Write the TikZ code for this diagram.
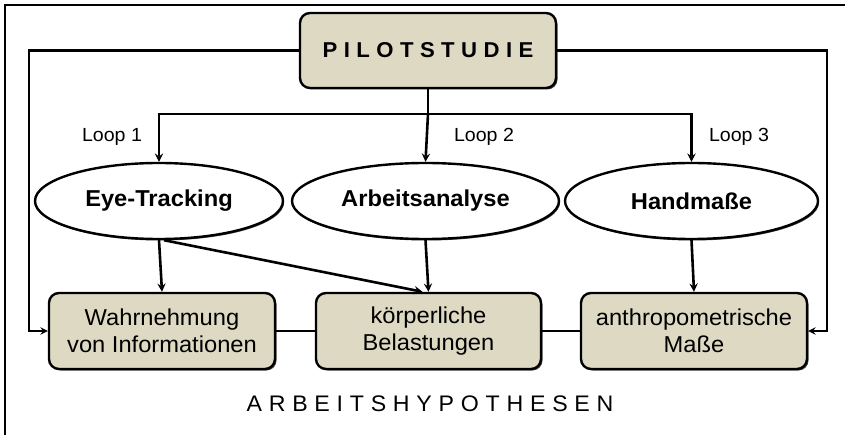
\documentclass[tikz,border=0pt]{standalone}
\usepackage{fontspec}
\setmainfont{Liberation Sans}[FakeStretch=1.03]
\newfontfamily\wideface{Liberation Sans}[FakeStretch=1.03,LetterSpace=30]
\usetikzlibrary{arrows,shapes.geometric,shadows}
\definecolor{tan}{RGB}{221,217,195}
\tikzset{
	hbox/.style={draw,line width=2.4pt,fill=tan,rounded corners=10pt,align=center,
		drop shadow={shadow xshift=1.5pt,shadow yshift=-1.5pt,fill=black!70,opacity=1},
		font=\fontsize{23}{27}\selectfont,inner sep=0pt},
	loopell/.style={draw,ellipse,line width=2.4pt,fill=white,inner sep=0pt,
		drop shadow={shadow xshift=1pt,shadow yshift=-1.5pt,fill=black!70,opacity=1},
		font=\fontsize{23}{26}\selectfont\bfseries,minimum height=76pt},
	arr/.style={-stealth,line width=2.6pt},
	back/.style={-stealth,line width=2.2pt},
	wire/.style={line width=2.6pt}
}
\begin{document}
\begin{tikzpicture}[x=1pt,y=-1pt]
	\useasboundingbox (0,0) rectangle (845,435);
	\draw[line width=2.6pt] (5,436) |- (846,5);

	\node[hbox,minimum width=256pt,minimum height=75pt,font=\fontsize{21.5}{24}\selectfont] (pilot) at (428,50.5)
		{\wideface\bfseries PILOTSTUDIE};

	\node[loopell,minimum width=248pt] (eye) at (159,201) {Eye-Tracking};
	\node[loopell,minimum width=267pt] (arb) at (425.5,201) {Arbeitsanalyse};
	\node[loopell,minimum width=253pt] (hand) at (691.5,201) {Handmaße};

	\node[hbox,minimum width=226pt,minimum height=76pt] (wahr) at (162,331) {Wahrnehmung\\von Informationen};
	\node[hbox,minimum width=225pt,minimum height=76pt] (koerp) at (428.5,331) {körperliche\\Belastungen};
	\node[hbox,minimum width=226pt,minimum height=76pt] (anthro) at (694,331) {anthropometrische\\Maße};

	\node[font=\fontsize{22.5}{24}\selectfont] (hypo) at (430,404) {\wideface ARBEITSHYPOTHESEN};

	\coordinate (split) at (428,114);
	\draw[wire] (pilot.south) -- (split);
	\draw[arr] (split) -| (eye.north);
	\draw[arr] (split) -- (arb.north);
	\draw[arr] (split) -| (hand.north);

	\node[font=\fontsize{19}{20}\selectfont] (l1) at (112,137) {Loop 1};
	\node[font=\fontsize{19}{20}\selectfont,fill=white,inner sep=1pt] (l2) at (484,137) {Loop 2};
	\node[font=\fontsize{19}{20}\selectfont] (l3) at (739,137) {Loop 3};

	\draw[back] (pilot.west) -| ([xshift=-19pt]wahr.west) -- (wahr.west);
	\draw[back] (pilot.east) -| ([xshift=19pt]anthro.east) -- (anthro.east);

	\draw[arr] (eye.south) -- (wahr.north);
	\draw[arr] (arb.south) -- (koerp.north);
	\draw[arr] (hand.south) -- (anthro.north);
	\draw[arr] ([xshift=5pt]eye.south) -- ([xshift=-6pt]koerp.north);

	\draw[wire] (wahr.east) -- (koerp.west);
	\draw[wire] (koerp.east) -- (anthro.west);
\end{tikzpicture}
\end{document}
